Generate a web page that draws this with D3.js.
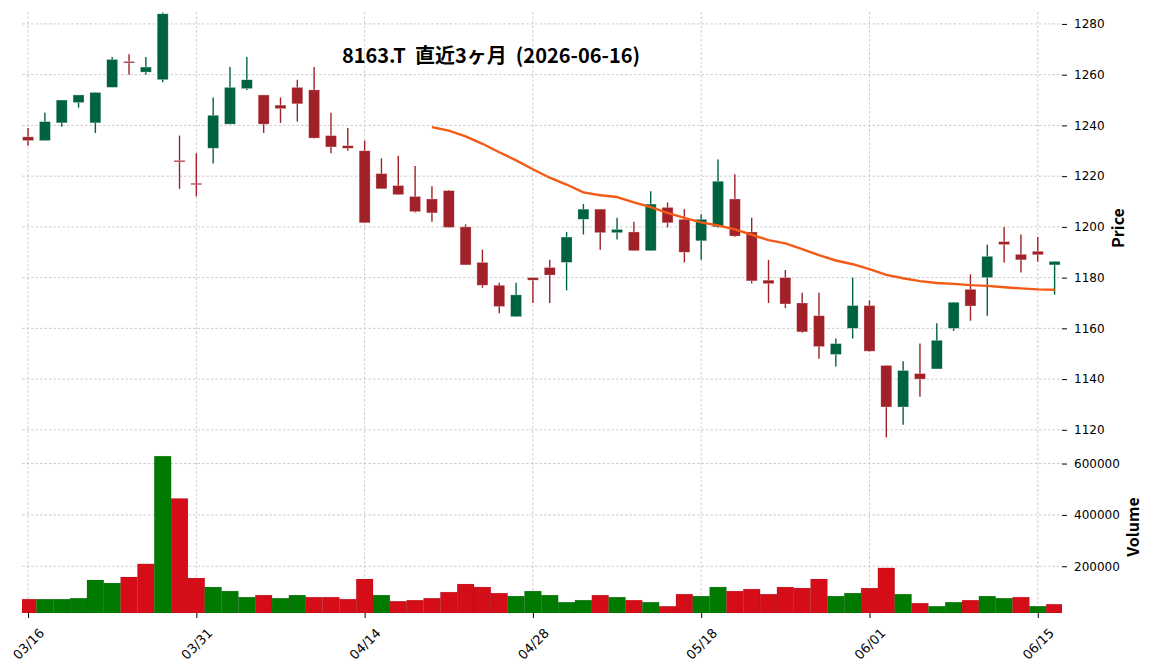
<!DOCTYPE html>
<html>
<head>
<meta charset="utf-8">
<script src="https://cdn.jsdelivr.net/npm/d3@7"></script>
<style>
  html, body { margin: 0; padding: 0; background: #fff; }
  svg { display: block; }
  .tick text { font-family: "DejaVu Sans", sans-serif; fill: #000; }
</style>
</head>
<body>
<svg id="chart" width="1152" height="670"></svg>
<script>
const dates = ["03/16","03/17","03/18","03/19","03/23","03/24","03/25","03/26","03/27","03/30",
  "03/31","04/01","04/02","04/03","04/06","04/07","04/08","04/09","04/10","04/13",
  "04/14","04/15","04/16","04/17","04/20","04/21","04/22","04/23","04/24","04/27",
  "04/28","04/30","05/01","05/07","05/08","05/11","05/12","05/13","05/14","05/15",
  "05/18","05/19","05/20","05/21","05/22","05/25","05/26","05/27","05/28","05/29",
  "06/01","06/02","06/03","06/04","06/05","06/08","06/09","06/10","06/11","06/12",
  "06/15","06/16"];
const opens = [1235.5,1234,1241,1249,1241,1255,1265.2,1261,1258,1226.2,
  1217.2,1231,1240.5,1254.5,1252,1248,1255,1254,1236,1232,
  1230,1221,1216.3,1212,1211,1214.3,1200,1186,1177,1164.6,
  1180,1184,1186,1203,1207,1197.7,1198,1190.6,1207.7,1203,
  1194.5,1200,1211,1198,1179,1180,1170,1165,1149.7,1160,
  1169,1145.4,1129,1142.2,1144,1160,1175.4,1180,1194.2,1189.2,
  1190.4,1185];
const highs = [1239,1245,1250,1252,1253,1267,1268,1267,1284.5,1236,
  1229,1251,1263,1267,1252,1251,1258,1263,1245,1239,
  1234,1227,1228,1224,1216,1214.5,1201,1191,1178,1178,
  1180,1187,1198,1209,1207,1203.6,1202,1214,1209.6,1207,
  1205,1226.6,1220.7,1203.6,1187,1183,1174,1174,1156,1180,
  1171,1145.4,1147,1154,1162,1170.3,1181.3,1193,1200,1197,
  1196,1186.4];
const lows = [1232,1234,1239.5,1247,1237,1255,1260,1260,1257,1215,
  1212,1225,1240.5,1254,1237,1241,1241.5,1234.8,1229,1230,
  1201.5,1215,1212.7,1205.7,1202,1199.8,1185,1176,1166,1164.6,
  1170,1170,1175,1197,1191,1195,1190.6,1190.6,1199.8,1186,
  1187,1199.7,1196,1177.7,1170,1168,1158.3,1148,1145,1156,
  1150.8,1117,1122,1133,1144,1159,1163,1165,1186,1182,
  1186.3,1173.3];
const closes = [1234,1241.5,1250,1252,1253,1266,1265,1263,1284,1226,
  1217,1244,1255,1258,1240.5,1246.6,1248.5,1235,1231.5,1231,
  1201.6,1215,1212.7,1206,1205.5,1199.8,1185,1177,1168.6,1173.2,
  1179,1181,1196,1207,1197.7,1199,1190.6,1209,1201.6,1190,
  1203,1218,1196.4,1178.7,1177.6,1169.6,1158.6,1152.8,1154,1169,
  1151,1129,1143.4,1140,1155.3,1170.3,1168.8,1188.4,1193,1187,
  1189,1186.4];
const volumes = [71900,71900,71900,75800,146400,134600,158200,209200,628800,464000,
  154200,119000,103300,79700,87600,75800,87600,79700,79700,71900,
  150300,87600,64000,68000,75800,99300,130700,119000,95400,83700,
  103300,87600,60100,68000,87600,79700,68000,60100,44400,91500,
  83700,119000,103300,111100,91500,119000,115000,150300,83700,95400,
  115000,193500,91500,56200,44400,60100,68000,83700,75800,79700,
  44400,52300];
const tickLabels = ["03/16","03/31","04/14","04/28","05/18","06/01","06/15"];
const priceTicks = [1120,1140,1160,1180,1200,1220,1240,1260,1280];
const volumeTicks = [200000,400000,600000];
const maPeriod = 25;
const titleText = "8163.T  直近3ヶ月  (2026-06-16)";

const data = dates.map((d, i) => ({
  i, date: d, open: opens[i], high: highs[i], low: lows[i], close: closes[i], volume: volumes[i]
}));
// moving average of closes (mav=25)
const ma = [];
for (let i = maPeriod - 1; i < closes.length; i++) {
  ma.push({ i, v: d3.mean(closes.slice(i - maPeriod + 1, i + 1)) });
}

const svg = d3.select("#chart");
const L = 22, R = 1062, PT = 12, PB = 441, VT = 440, VB = 613;

const x = d3.scaleLinear().domain([-0.36, data.length - 0.56]).range([L, R]);
const y = d3.scaleLinear().domain([1115.6, 1284.7]).range([PB, PT]);
const yv = d3.scaleLinear().domain([18000, d3.max(volumes) * 1.1]).range([VB, VT]);

svg.append("defs").append("clipPath").attr("id", "clipP")
  .append("rect").attr("x", L).attr("y", PT).attr("width", R - L).attr("height", PB - PT);
svg.select("defs").append("clipPath").attr("id", "clipV")
  .append("rect").attr("x", L).attr("y", VT).attr("width", R - L).attr("height", VB - VT);

const gridColor = "#bfbfbf";
const tickIdx = tickLabels.map(t => dates.indexOf(t));

// grids
const grid = svg.append("g");
grid.selectAll(".hp").data(priceTicks).join("line")
  .attr("x1", L).attr("x2", R).attr("y1", d => y(d)).attr("y2", d => y(d))
  .attr("stroke", gridColor).attr("stroke-width", 0.8).attr("stroke-dasharray", "2.5,2");
grid.selectAll(".hv").data(volumeTicks).join("line")
  .attr("x1", L).attr("x2", R).attr("y1", d => yv(d)).attr("y2", d => yv(d))
  .attr("stroke", gridColor).attr("stroke-width", 0.8).attr("stroke-dasharray", "2.5,2");
grid.selectAll(".vx").data(tickIdx).join("line")
  .attr("x1", d => x(d)).attr("x2", d => x(d)).attr("y1", PT).attr("y2", VB)
  .attr("stroke", gridColor).attr("stroke-width", 0.8).attr("stroke-dasharray", "2.5,2");

// volume bars
const upV = "#007a00", downV = "#d50d18";
const bw = x(1) - x(0);
svg.append("g").attr("clip-path", "url(#clipV)")
  .selectAll("rect").data(data).join("rect")
  .attr("x", d => x(d.i) - bw / 2).attr("width", bw)
  .attr("y", d => yv(d.volume)).attr("height", d => VB - yv(d.volume))
  .attr("fill", d => {
    const prev = d.i === 0 ? d.open : closes[d.i - 1];
    return d.close >= prev ? upV : downV;
  })
  .attr("stroke", "rgba(0,0,0,0.18)").attr("stroke-width", 0.5);

// candles
const upC = "#006340", downC = "#a02128";
const cw = 11;
const cg = svg.append("g").attr("clip-path", "url(#clipP)");
cg.selectAll(".wick").data(data).join("line")
  .attr("x1", d => x(d.i)).attr("x2", d => x(d.i))
  .attr("y1", d => y(d.high)).attr("y2", d => y(d.low))
  .attr("stroke", d => d.close >= d.open ? upC : downC).attr("stroke-width", 1.4);
cg.selectAll(".body").data(data).join("rect")
  .attr("x", d => x(d.i) - cw / 2).attr("width", cw)
  .attr("y", d => Math.min(y(d.open), y(d.close)))
  .attr("height", d => Math.max(1.5, Math.abs(y(d.open) - y(d.close))))
  .attr("fill", d => d.close >= d.open ? upC : downC)
  .attr("stroke", "rgba(255,255,255,0.5)").attr("stroke-width", 0.6);

// moving average
cg.append("path").datum(ma)
  .attr("d", d3.line().x(d => x(d.i)).y(d => y(d.v)).curve(d3.curveLinear))
  .attr("fill", "none").attr("stroke", "#f35a16").attr("stroke-width", 2.4)
  .attr("stroke-linejoin", "round");

// axes
const ap = svg.append("g").attr("transform", `translate(${R},0)`)
  .call(d3.axisRight(y).tickValues(priceTicks).tickSize(5).tickPadding(7).tickFormat(d3.format("d")));
ap.select(".domain").remove();
ap.selectAll("text").attr("font-size", 12);
const av = svg.append("g").attr("transform", `translate(${R},0)`)
  .call(d3.axisRight(yv).tickValues(volumeTicks).tickSize(5).tickPadding(7).tickFormat(d3.format("d")));
av.select(".domain").remove();
av.selectAll("text").attr("font-size", 12);

const ax = svg.append("g").attr("transform", `translate(0,${VB})`)
  .call(d3.axisBottom(x).tickValues(tickIdx).tickSize(5).tickFormat(d => dates[d]));
ax.select(".domain").remove();
ax.selectAll("text")
  .attr("font-size", 13)
  .attr("text-anchor", "middle")
  .attr("dy", "0.35em")
  .attr("y", 31)
  .attr("transform", "rotate(-45, 0, 31)");

// axis titles
svg.append("text").attr("transform", "translate(1124,228) rotate(-90)")
  .attr("text-anchor", "middle").attr("font-family", "Noto Sans CJK JP, sans-serif")
  .attr("font-weight", "bold").attr("font-size", 16).text("Price");
svg.append("text").attr("transform", "translate(1139,527) rotate(-90)")
  .attr("text-anchor", "middle").attr("font-family", "Noto Sans CJK JP, sans-serif")
  .attr("font-weight", "bold").attr("font-size", 16).text("Volume");

// title
svg.append("text").attr("x", 491).attr("y", 63)
  .attr("text-anchor", "middle").attr("font-family", "Noto Sans CJK JP, sans-serif")
  .attr("font-weight", "bold").attr("font-size", 20).attr("xml:space", "preserve")
  .style("white-space", "pre").text(titleText);
</script>
</body>
</html>
